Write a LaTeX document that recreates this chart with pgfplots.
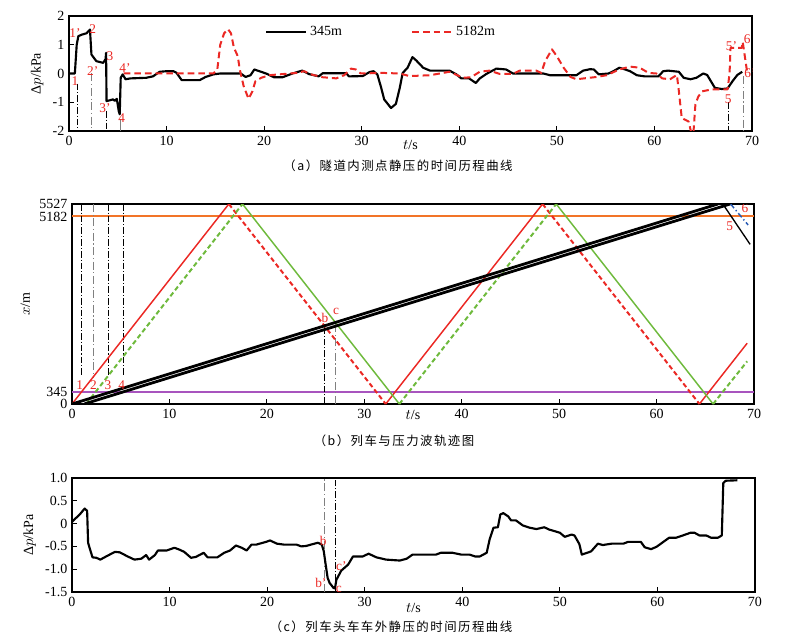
\documentclass[border=0pt]{standalone}
\usepackage{pgfplots}
\pgfplotsset{compat=1.18}
\usepackage{fontspec}
\setmainfont{Liberation Serif}
\newfontfamily\cjk[LetterSpace=12]{Noto Sans CJK SC}
\definecolor{wred}{RGB}{235,40,36}
\definecolor{wgreen}{RGB}{110,186,60}
\definecolor{worange}{RGB}{242,116,40}
\definecolor{wpurple}{RGB}{168,84,190}
\definecolor{wblue}{RGB}{40,90,180}
\tikzset{
 lab/.style={font=\fontsize{10}{12}\selectfont, text=wred, inner sep=0pt},
 vdd/.style={line width=0.6pt, black, dash pattern=on 5pt off 1.5pt on 0.8pt off 1.5pt},
 vdg/.style={line width=0.7pt, gray, dash pattern=on 6pt off 2pt on 0.8pt off 2pt},
}
\begin{document}
\begin{tikzpicture}
\useasboundingbox (0pt,0pt) rectangle (592.5pt,-481.5pt);
\pgfplotsset{
 base/.style={scale only axis, anchor=north west, xmin=0, xmax=70,
  xtick={0,10,...,70}, tick align=inside, xtick pos=left, ytick pos=left,
  axis line style={line width=1.1pt}, major tick length=3.5pt,
  tick style={line width=0.6pt, black},
  tick label style={font=\fontsize{10.5}{12}\selectfont},
  label style={font=\fontsize{10.5}{12}\selectfont},
  /pgf/number format/assume math mode=true,
  every axis plot/.append style={line join=round}},
}
% ---------------- panel (a)
\begin{axis}[base, at={(51.75pt,-12pt)}, width=512.25pt, height=86.25pt,
  ymin=-2, ymax=2, ytick={-2,-1,0,1,2},
  xlabel={$t$/s}, xlabel style={at={(axis description cs:0.5,0)}, anchor=north, yshift=-3.5pt},
  ylabel={Δ$p$/kPa},
  legend columns=2,
  legend image code/.code={\draw[#1] (0pt,0pt) -- (30pt,0pt);},
  legend style={at={(axis cs:20.1,1.45)}, anchor=west, draw=none, fill=none, inner sep=0pt,
    font=\fontsize{10.5}{12}\selectfont, /tikz/every even column/.append style={column sep=50pt}},
]
\addplot[black, line width=1.6pt] coordinates {
(0,0) (0.6,0) (0.79,1.0) (0.96,1.3) (1.3,1.35) (1.8,1.4) (2.15,1.53) (2.3,0.66) (2.8,0.43) (3.5,0.37)
(3.75,0.5) (3.8,0.72) (3.85,-0.96) (4.2,-0.93) (4.5,-0.9) (4.7,-0.95) (4.9,-0.88) (5.1,-1.31) (5.2,-1.42)
(5.3,-0.15) (5.5,-0.03) (5.8,-0.2) (6.3,-0.17) (7.9,-0.15) (8.6,-0.1) (9.3,0.06) (10,0.08) (10.7,0.08)
(11,0.03) (11.55,-0.23) (13.4,-0.23) (14,-0.12) (14.8,-0.03) (15.5,0) (17.6,0) (18.1,-0.12) (18.6,-0.06)
(19,0.14) (19.5,0.08) (20.2,0) (21,-0.13) (21.9,-0.13) (22.9,0) (23.9,0.1) (24.6,-0.02) (25.6,-0.1)
(26,0.01) (28.4,0.01) (28.7,-0.1) (30.1,-0.09) (30.8,0.05) (31.2,0.08) (31.6,-0.03) (32,-0.5) (32.3,-0.9)
(33,-1.2) (33.5,-1.06) (33.9,-0.5) (34.2,0.02) (34.7,0.2) (35.2,0.57) (35.6,0.45) (36.3,0.2) (37,0.1)
(39,0.1) (39.7,-0.03) (40.2,-0.17) (41,-0.17) (41.7,-0.33) (42.1,-0.17) (42.8,-0.01) (43.8,0.17)
(44.8,0.14) (45.5,0) (48.6,0) (49.3,-0.06) (52,-0.06) (52.7,0.1) (53.4,0.15) (53.8,0.14) (54.3,-0.03)
(55.3,0) (55.8,0.08) (56.4,0.2) (57,0.14) (57.5,0.08) (58.2,-0.06) (59,-0.1) (60.4,-0.1) (60.9,0.08)
(61.4,0.1) (62.5,0.06) (63,-0.15) (63.7,-0.2) (64.3,-0.15) (65,0) (65.4,-0.05) (66.2,-0.5) (66.9,-0.54)
(67.5,-0.52) (68,-0.27) (68.5,-0.05) (69,0.06)};
\addplot[wred, line width=1.5pt, dash pattern=on 5pt off 3pt] coordinates {
(5.6,0) (14.8,0) (15.2,0.14) (15.5,1.0) (15.9,1.4) (16.3,1.54) (16.6,1.4) (16.9,0.9) (17.3,0.6)
(17.5,0.14) (17.9,-0.44) (18.4,-0.88) (18.8,-0.62) (19.1,-0.27) (19.7,-0.15) (20.5,-0.06) (23.3,0.02)
(24.1,0.08) (24.8,-0.03) (26,-0.13) (27.4,-0.17) (28.2,-0.06) (28.9,0.17) (29.4,0.14) (29.9,0)
(32.2,0.02) (33.9,0) (34.9,-0.09) (37,-0.06) (39,0.06) (40.4,-0.15) (41.2,-0.13) (42.1,0.06) (43.1,0.1)
(44.1,-0.01) (45.5,-0.01) (46.2,0.1) (47.9,0.1) (48.4,0.02) (48.8,0.43) (49.5,0.84) (50,0.6) (50.7,0.2)
(51.4,-0.12) (52,-0.2) (54.1,-0.12) (55.1,-0.06) (56.4,0.14) (57.5,0.24) (58.5,0.2) (59.4,0.02) (60.2,0)
(60.8,-0.17) (61.6,-0.2) (62.3,-0.05) (62.5,-0.6) (62.8,-1.55) (63.5,-1.67) (63.95,-2.3) (64.2,-1.07)
(64.5,-0.8) (64.9,-0.62) (65.9,-0.55) (67.5,-0.55) (67.7,0.0) (67.8,0.89) (68.95,0.89) (69.05,1.1) (69.5,0.05)};
\legend{345m,5182m}
\addplot[vdd, forget plot] coordinates {(0.85,-0.35) (0.85,-2)};
\addplot[vdg, forget plot] coordinates {(2.35,0.0) (2.35,-2)};
\addplot[vdd, forget plot] coordinates {(3.85,-1.3) (3.85,-2)};
\addplot[gray, line width=0.7pt, forget plot] coordinates {(5.3,-1.6) (5.3,-2)};
\addplot[vdd, forget plot] coordinates {(67.6,-1.0) (67.6,-2)};
\addplot[vdg, forget plot] coordinates {(69.1,-0.1) (69.1,-2)};
\node[lab] at (axis cs:0.61,1.41) {1'};
\node[lab] at (axis cs:0.61,-0.27) {1};
\node[lab] at (axis cs:2.43,1.53) {2};
\node[lab] at (axis cs:2.43,0.08) {2'};
\node[lab] at (axis cs:4.2,0.6) {3};
\node[lab] at (axis cs:3.69,-1.2) {3'};
\node[lab] at (axis cs:5.4,-1.54) {4};
\node[lab] at (axis cs:5.74,0.19) {4'};
\node[lab] at (axis cs:67.9,0.95) {5'};
\node[lab] at (axis cs:69.5,1.18) {6};
\node[lab] at (axis cs:69.8,0.02) {6'};
\node[lab] at (axis cs:67.57,-0.9) {5};
\end{axis}
\node[font=\cjk\fontsize{9.3}{11}\selectfont] at (298.5pt,-124.5pt) {（a）隧道内测点静压的时间历程曲线};
% ---------------- panel (b)
\begin{axis}[base, at={(54pt,-153pt)}, width=511.5pt, height=150pt,
  ymin=0, ymax=5527, ytick={0,345,5182,5527},
  yticklabels={0,345,5182,5527},
  xlabel={$t$/s}, xlabel style={at={(axis description cs:0.5,0)}, anchor=north, yshift=-1.5pt},
  ylabel={$x$/m},
]
\addplot[worange, line width=1.5pt] coordinates {(0,5182) (70,5182)};
\addplot[wpurple, line width=1.5pt] coordinates {(0,345) (70,345)};
\addplot[vdd] coordinates {(0.92,5527) (0.92,750)};
\addplot[vdg] coordinates {(2.25,5527) (2.25,750)};
\addplot[vdd] coordinates {(3.73,5527) (3.73,750)};
\addplot[vdd] coordinates {(5.27,5527) (5.27,750)};
\addplot[vdd] coordinates {(25.95,0) (25.95,2250)};
\addplot[vdg] coordinates {(27.05,0) (27.05,2250)};
% red wave
\addplot[wred, line width=1.1pt] coordinates {(0,0) (16.1,5527)};
\addplot[wred, line width=1.5pt, dash pattern=on 3.5pt off 2.2pt] coordinates {(16.1,5527) (32.2,0)};
\addplot[wred, line width=1.1pt] coordinates {(32.2,0) (48.3,5527)};
\addplot[wred, line width=1.5pt, dash pattern=on 3.5pt off 2.2pt] coordinates {(48.3,5527) (64.4,0)};
\addplot[wred, line width=1.1pt] coordinates {(64.4,0) (69.3,1680)};
% green wave
\addplot[wgreen, line width=1.5pt, dash pattern=on 3.5pt off 2.2pt] coordinates {(1.45,0) (17.5,5527)};
\addplot[wgreen, line width=1.1pt] coordinates {(17.5,5527) (33.6,0)};
\addplot[wgreen, line width=1.5pt, dash pattern=on 3.5pt off 2.2pt] coordinates {(33.6,0) (49.7,5527)};
\addplot[wgreen, line width=1.1pt] coordinates {(49.7,5527) (65.8,0)};
\addplot[wgreen, line width=1.5pt, dash pattern=on 3.5pt off 2.2pt] coordinates {(65.8,0) (69.3,1180)};
% train
\addplot[black, line width=2.1pt] coordinates {(0,0) (66.3,5527)};
\addplot[black, line width=2.1pt] coordinates {(1.25,0) (67.55,5527)};
\addplot[black, line width=1.0pt] coordinates {(66.8,5527) (69.6,4412)};
\addplot[wblue, line width=1.1pt, dash pattern=on 4pt off 2pt on 1pt off 2pt] coordinates {(67.6,5527) (69.4,4946)};
\node[lab] at (axis cs:0.8,520) {1};
\node[lab] at (axis cs:2.2,520) {2};
\node[lab] at (axis cs:3.7,520) {3};
\node[lab] at (axis cs:5.1,520) {4};
\node[lab] at (axis cs:25.97,2368) {b};
\node[lab] at (axis cs:27.1,2551) {c};
\node[lab] at (axis cs:67.5,4900) {5};
\node[lab] at (axis cs:69.07,5408) {6};
\end{axis}
\node[font=\cjk\fontsize{9.3}{11}\selectfont] at (295.5pt,-330.75pt) {（b）列车与压力波轨迹图};
% ---------------- panel (c)
\begin{axis}[base, at={(54pt,-358.5pt)}, width=512.25pt, height=85.5pt,
  ymin=-1.5, ymax=1.0, ytick={-1.5,-1,-0.5,0,0.5,1},
  yticklabels={-1.5,-1.0,-0.5,0,0.5,1.0},
  xlabel={$t$/s}, xlabel style={at={(axis description cs:0.5,0)}, anchor=north, yshift=-5pt},
  ylabel={Δ$p$/kPa},
]
\addplot[vdg] coordinates {(25.9,-1.5) (25.9,1.0)};
\addplot[vdd] coordinates {(27.0,-1.5) (27.0,1.0)};
\addplot[black, line width=1.6pt] coordinates {
(0,0.04) (0.79,0.2) (1.3,0.33) (1.55,0.28) (1.65,-0.42) (1.8,-0.53) (2.1,-0.74) (2.5,-0.75) (2.9,-0.79)
(3.5,-0.72) (4.4,-0.62) (4.9,-0.63) (5.7,-0.72) (6.4,-0.79) (7.1,-0.77) (7.6,-0.69) (7.9,-0.79) (8.5,-0.69)
(8.8,-0.59) (9.7,-0.59) (10.5,-0.53) (11,-0.57) (11.5,-0.62) (12.2,-0.75) (12.7,-0.73) (13.5,-0.64)
(13.9,-0.74) (14.9,-0.74) (15.6,-0.64) (16.2,-0.59) (16.8,-0.48) (17.4,-0.53) (17.9,-0.59) (18.4,-0.46)
(18.9,-0.46) (19.9,-0.4) (20.3,-0.37) (21,-0.44) (21.7,-0.46) (23,-0.46) (23.5,-0.5) (24,-0.49) (24.5,-0.46)
(25.2,-0.42) (25.6,-0.46) (25.8,-0.6) (26,-0.9) (26.2,-1.19) (26.4,-1.3) (26.8,-1.41) (26.95,-1.42)
(27.1,-1.23) (27.6,-1.03) (28.3,-0.9) (28.8,-0.72) (29.8,-0.72) (30.4,-0.66) (31.2,-0.74) (32.2,-0.79)
(33.6,-0.81) (34.3,-0.77) (34.9,-0.68) (37.3,-0.68) (37.8,-0.64) (39,-0.64) (39.9,-0.68) (40.75,-0.68)
(41.3,-0.72) (41.8,-0.72) (42.5,-0.64) (42.8,-0.35) (43.2,-0.09) (43.65,-0.08) (43.9,0.2) (44.2,0.23)
(44.7,0.16) (45,0.07) (45.5,0.07) (46.2,-0.04) (46.9,-0.09) (47.6,-0.12) (48.4,-0.08) (48.9,-0.13)
(50,-0.2) (50.5,-0.29) (51.2,-0.24) (51.5,-0.26) (52,-0.45) (52.25,-0.68) (53.2,-0.61) (53.9,-0.44)
(54.4,-0.47) (55.3,-0.44) (56.5,-0.44) (57,-0.4) (58.3,-0.4) (58.7,-0.52) (59.35,-0.56) (59.9,-0.51)
(61.2,-0.31) (61.9,-0.31) (62.6,-0.26) (63.4,-0.2) (63.8,-0.2) (64.3,-0.26) (65,-0.26) (65.5,-0.31)
(66.2,-0.31) (66.6,-0.26) (66.75,0.89) (67,0.94) (68.2,0.95)};
\node[lab] at (axis cs:25.75,-0.37) {b};
\node[lab] at (axis cs:25.5,-1.3) {b'};
\node[lab] at (axis cs:27.35,-1.45) {c};
\node[lab] at (axis cs:27.6,-0.93) {c'};
\end{axis}
\node[font=\cjk\fontsize{9.3}{11}\selectfont] at (293.25pt,-470.25pt) {（c）列车头车车外静压的时间历程曲线};
\end{tikzpicture}
\end{document}
